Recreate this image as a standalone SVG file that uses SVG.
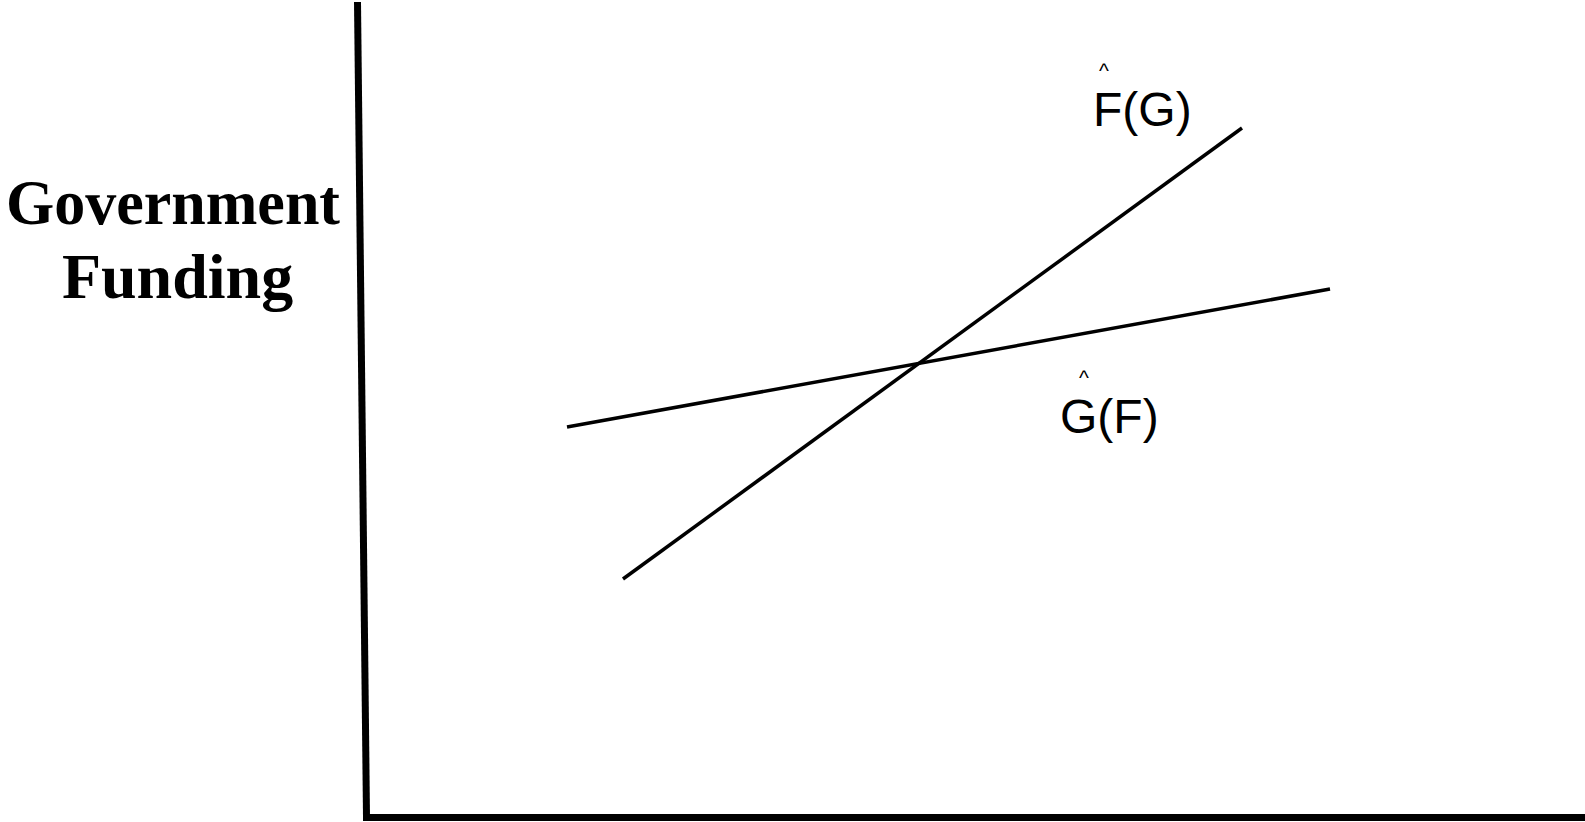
<svg xmlns="http://www.w3.org/2000/svg" width="1585" height="822" viewBox="0 0 1585 822">
<style>
.axis{stroke:#000;stroke-width:7;fill:none}
.curve{stroke:#000;stroke-width:3.5;fill:none}
.ylab{font-family:"Liberation Serif",serif;font-weight:bold;font-size:64px;fill:#000}
.lab{font-family:"Liberation Sans",Arial,sans-serif;font-size:48px;fill:#000}
.hat{font-family:"Liberation Sans",Arial,sans-serif;font-size:21px;fill:#000}
</style>
<rect width="1585" height="822" fill="#fff"/>
<g id="axes">
<line class="axis" x1="357.5" y1="2" x2="366.5" y2="817"/>
<line class="axis" x1="363" y1="817.5" x2="1585" y2="817.5"/>
</g>
<g id="connectors">
<line class="curve" x1="567" y1="427" x2="1330" y2="289"/>
<line class="curve" x1="623" y1="579" x2="1242" y2="128"/>
</g>
<g id="ylabel">
<text class="ylab" x="173" y="224" text-anchor="middle" textLength="334" lengthAdjust="spacingAndGlyphs">Government</text>
<text class="ylab" x="177.5" y="298" text-anchor="middle">Funding</text>
</g>
<g id="label-F">
<text class="hat" x="1099" y="78">^</text>
<text class="lab" x="1093" y="126">F(G)</text>
</g>
<g id="label-G">
<text class="hat" x="1079" y="385">^</text>
<text class="lab" x="1060" y="433">G(F)</text>
</g>
</svg>
